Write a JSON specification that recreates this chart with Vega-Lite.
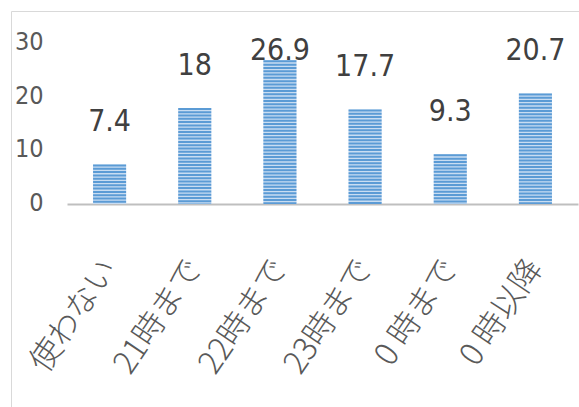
{
  "$schema": "https://vega.github.io/schema/vega-lite/v6.json",
  "width": 568,
  "height": 396,
  "autosize": {"type": "none"},
  "padding": {"left": 11, "top": 11, "right": 0, "bottom": 0},
  "background": "white",
  "config": {"view": {"stroke": "#D9D9D9", "strokeWidth": 1}},
  "data": {
    "values": [
      {"label": "使わない", "value": 7.4},
      {"label": "21時まで", "value": 18},
      {"label": "22時まで", "value": 26.9},
      {"label": "23時まで", "value": 17.7},
      {"label": "0 時まで", "value": 9.3},
      {"label": "0 時以降", "value": 20.7}
    ]
  },
  "encoding": {
    "x": {
      "field": "label",
      "type": "nominal",
      "sort": null,
      "scale": {"range": [56, 567], "paddingInner": 0.61, "paddingOuter": 0.305},
      "axis": {
        "title": null,
        "grid": false,
        "ticks": false,
        "domainColor": "#BFBFBF",
        "domainWidth": 2,
        "offset": -203,
        "labelAngle": -56,
        "labelAlign": "right",
        "labelBaseline": "middle",
        "labelPadding": 58,
        "labelFont": "Noto Sans CJK JP",
        "labelFontSize": 32,
        "labelFontWeight": 300,
        "labelColor": "#595959",
        "labelLimit": 0,
        "labelOverlap": false
      }
    },
    "y": {
      "field": "value",
      "type": "quantitative",
      "scale": {"domain": [0, 30], "range": [193, 32.8], "nice": false},
      "axis": {
        "title": null,
        "values": [0, 10, 20, 30],
        "grid": false,
        "domain": false,
        "ticks": false,
        "offset": -36,
        "labelPadding": 4,
        "labelOffset": -2,
        "labelFont": "DejaVu Sans Condensed, Liberation Sans",
        "labelFontSize": 25,
        "labelColor": "#595959"
      }
    }
  },
  "layer": [
    {
      "mark": {"type": "bar", "fill": "#C9DDF2"}
    },
    {
      "mark": {"type": "rule", "color": "#5B9BD5", "strokeWidth": 33, "strokeDash": [2, 1.3], "strokeCap": "butt"},
      "encoding": {"y2": {"datum": 0}}
    },
    {
      "transform": [{"filter": "datum.value <= 25"}],
      "mark": {"type": "text", "baseline": "alphabetic", "dy": -33, "font": "DejaVu Sans Condensed, Liberation Sans", "fontSize": 30, "fill": "#404040"},
      "encoding": {"text": {"field": "value", "type": "quantitative"}}
    },
    {
      "transform": [{"filter": "datum.value > 25"}],
      "mark": {"type": "text", "baseline": "alphabetic", "dy": 0, "font": "DejaVu Sans Condensed, Liberation Sans", "fontSize": 30, "fill": "#404040"},
      "encoding": {"text": {"field": "value", "type": "quantitative"}}
    }
  ]
}
